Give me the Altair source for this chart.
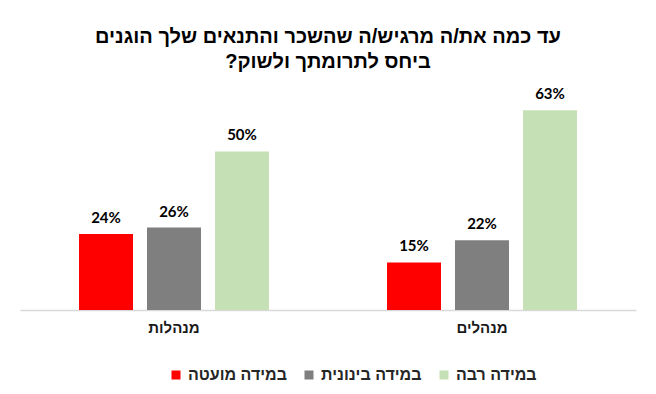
import altair as alt
import pandas as pd

groups = ["מנהלות", "מנהלים"]
levels = ["במידה מועטה", "במידה בינונית", "במידה רבה"]
colors = ["#FF0000", "#7F7F7F", "#C5E0B4"]
values_women = [24, 26, 50]
values_men = [15, 22, 63]

rows = []
for g, vals in zip(groups, [values_women, values_men]):
    for lvl, v in zip(levels, vals):
        rows.append({"group": g, "level": lvl, "value": v})
df = pd.DataFrame(rows)

FONT = "Liberation Sans"
RLM = "\u200f"

base = alt.Chart(df).encode(
    x=alt.X("group:N", sort=groups, title=None,
            scale=alt.Scale(paddingInner=0, paddingOuter=0),
            axis=alt.Axis(labelAngle=0, ticks=False, domainColor="#D9D9D9", domainWidth=1.5,
                          labelFont=FONT, labelFontSize=15, labelFontWeight="bold",
                          labelColor="#1a1a1a", labelPadding=10)),
    xOffset=alt.XOffset("level:N", sort=levels,
                        scale=alt.Scale(paddingInner=0.206, paddingOuter=0.868)),
    y=alt.Y("value:Q", scale=alt.Scale(domain=[0, 70]), axis=None),
)

bars = base.mark_bar().encode(
    color=alt.Color("level:N", sort=levels,
                    scale=alt.Scale(domain=levels, range=colors),
                    legend=alt.Legend(title=None, orient="none", direction="horizontal",
                                      legendX=148, legendY=279,
                                      symbolType="square", symbolSize=81,
                                      symbolStrokeWidth=0, labelFont=FONT,
                                      labelFontWeight="bold",
                                      labelFontSize=16, labelColor="#262626",
                                      labelOffset=4, columnPadding=14)),
)

labels = base.transform_calculate(lbl="datum.value + '%'").mark_text(
    baseline="bottom", dy=-8, font="Lato", fontSize=15, fontWeight="bold", color="#000000"
).encode(text="lbl:N")

chart = (bars + labels).properties(
    width=616, height=222,
    title=alt.TitleParams(
        ["עד כמה את/ה מרגיש/ה שהשכר והתנאים שלך הוגנים", "ביחס לתרומתך ולשוק?" + RLM],
        anchor="middle", font=FONT, fontSize=20, fontWeight="bold", color="#000000",
        offset=15, lineHeight=25,
    ),
    autosize=alt.AutoSizeParams(type="none"),
    padding={"left": 20, "right": 20, "top": 88, "bottom": 84},
).configure_view(stroke=None)

chart.save("out.html", embed_options={"renderer": "svg", "actions": False})
